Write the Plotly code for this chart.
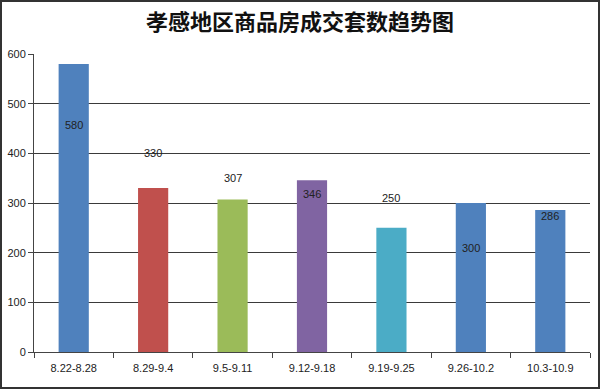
import plotly.graph_objects as go

categories = ["8.22-8.28", "8.29-9.4", "9.5-9.11", "9.12-9.18", "9.19-9.25", "9.26-10.2", "10.3-10.9"]
values = [580, 330, 307, 346, 250, 300, 286]
colors = ["#4F81BD", "#C0504D", "#9BBB59", "#8064A2", "#4BACC6", "#4F81BD", "#4F81BD"]
# label offset relative to bar value (as drawn in the reference)
label_offset = [-122, 70, 43, -28, 60, -90, -12]

W, H = 600, 389
ml, mr, mt, mb = 34, 10, 54, 37

fig = go.Figure()
fig.add_trace(go.Bar(
    x=categories, y=values, marker=dict(color=colors, line=dict(width=0)),
    width=0.38, hoverinfo="x+y",
))
for c, v, o in zip(categories, values, label_offset):
    fig.add_annotation(x=c, y=v + o, text=str(v), showarrow=False,
                       font=dict(size=11, color="#222", family="Liberation Sans, Arial"))

pw = W - ml - mr
ph = H - mt - mb
x0 = -(ml - 1) / pw
x1 = 1 + (mr - 1) / pw
y0 = -(mb - 1) / ph
y1 = 1 + (mt - 1) / ph
fig.add_shape(type="rect", xref="paper", yref="paper", x0=x0, x1=x1, y0=y0, y1=y1,
              line=dict(color="#333", width=2), layer="above")

fig.update_layout(
    width=W, height=H, autosize=False,
    margin=dict(l=ml, r=mr, t=mt, b=mb, autoexpand=False),
    paper_bgcolor="white", plot_bgcolor="white",
    title=dict(text="<b>孝感地区商品房成交套数趋势图</b>", x=0.5, xanchor="center",
               y=1 - 22 / H, yanchor="middle", automargin=False,
               font=dict(size=22, color="#111", family="Noto Sans CJK SC")),
    showlegend=False,
    xaxis=dict(tickangle=0, automargin=False, ticklabelstandoff=6,
               showline=True, linecolor="#444", linewidth=1,
               ticks="outside", tickson="boundaries", ticklen=5, tickcolor="#444",
               tickfont=dict(size=11, color="#222", family="Liberation Sans, Arial"),
               showgrid=False),
    yaxis=dict(range=[0, 600], dtick=100, automargin=False,
               showline=True, linecolor="#444", linewidth=1,
               ticks="outside", ticklen=5, tickcolor="#444",
               gridcolor="#3a3a3a", gridwidth=1, zeroline=False,
               tickfont=dict(size=11, color="#222", family="Liberation Sans, Arial")),
)
fig.write_html("out.html", config={"displayModeBar": False},
               post_script="document.body.style.margin='0';document.body.style.overflow='hidden';")
